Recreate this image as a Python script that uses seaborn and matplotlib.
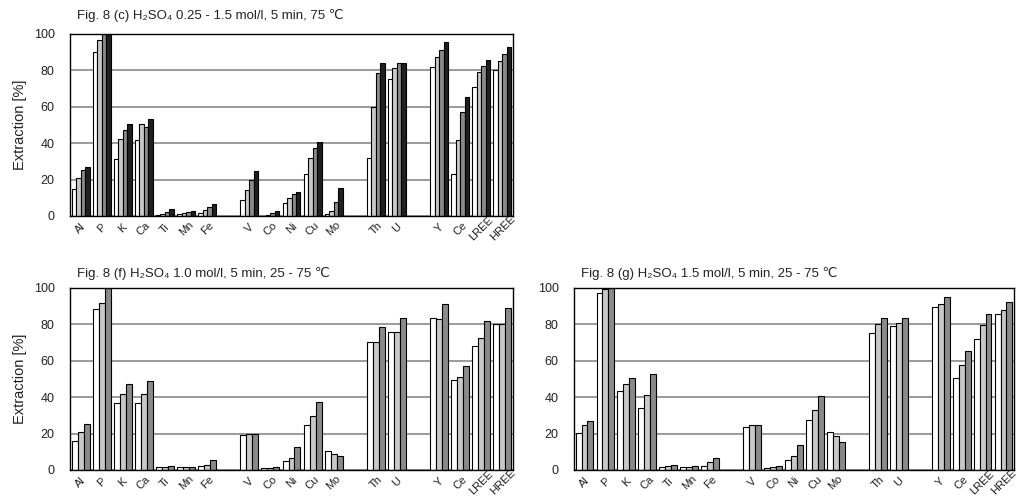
import numpy as np
import pandas as pd
import seaborn as sns
from matplotlib import pyplot as plt

# elements on the x axis, gaps are blank slots
elements = ["Al", "P", "K", "Ca", "Ti", "Mn", "Fe", "V", "Co", "Ni", "Cu", "Mo",
            "Th", "U", "Y", "Ce", "LREE", "HREE"]
order = ["Al", "P", "K", "Ca", "Ti", "Mn", "Fe", " ", "V", "Co", "Ni", "Cu", "Mo",
         "  ", "Th", "U", "   ", "Y", "Ce", "LREE", "HREE"]

# (c) H2SO4 0.25 - 1.5 mol/l, 75 C
c_025 = [14.7, 90.0, 31.4, 41.6, 0.3, 1.0, 1.5, 8.6, 0.2, 7.2, 22.9, 1.3, 32.0, 75.5, 81.7, 23.3, 71.1, 80.2]
c_050 = [21.0, 96.5, 42.2, 50.5, 1.0, 1.5, 3.3, 14.1, 0.6, 9.8, 31.7, 2.8, 59.8, 81.3, 87.4, 41.8, 78.9, 85.3]
c_100 = [25.3, 100.0, 47.3, 48.8, 2.2, 2.0, 5.1, 20.0, 1.8, 12.2, 37.4, 7.6, 78.5, 83.9, 91.3, 57.0, 82.2, 89.0]
c_150 = [27.0, 100.0, 50.5, 53.2, 3.7, 2.6, 6.8, 24.8, 2.8, 13.3, 40.5, 15.3, 84.2, 84.2, 95.5, 65.5, 85.7, 92.8]

# (f) H2SO4 1.0 mol/l, 25 - 75 C
f_25 = [16.1, 88.4, 37.0, 37.0, 1.5, 1.5, 2.0, 19.4, 1.3, 5.0, 25.0, 10.3, 70.1, 75.6, 83.3, 49.2, 68.1, 80.2]
f_50 = [21.1, 91.6, 41.8, 41.8, 1.8, 1.5, 2.9, 19.8, 1.3, 6.6, 29.4, 9.0, 70.1, 75.6, 82.9, 51.0, 72.3, 80.2]
f_75 = [25.5, 100.0, 47.5, 48.8, 2.4, 1.8, 5.3, 19.8, 1.8, 12.5, 37.4, 7.9, 78.3, 83.3, 91.0, 56.9, 81.8, 88.8]

# (g) H2SO4 1.5 mol/l, 25 - 75 C
g_25 = [20.2, 97.2, 43.5, 33.9, 1.8, 1.7, 2.4, 23.9, 1.1, 5.7, 27.2, 20.7, 75.2, 79.1, 89.4, 50.3, 71.9, 85.5]
g_50 = [24.8, 99.3, 47.3, 41.1, 2.2, 1.7, 4.2, 25.0, 1.5, 7.7, 32.7, 18.9, 80.0, 80.6, 91.2, 57.8, 79.6, 87.9]
g_75 = [27.0, 100.0, 50.5, 52.8, 2.9, 2.0, 6.8, 25.0, 2.4, 13.6, 40.4, 15.4, 83.7, 83.7, 95.0, 65.3, 85.9, 92.5]

sns.set_style("white")
plt.rcParams['font.family'] = ['Liberation Sans', 'DejaVu Sans']


def panel(ax, series, palette, title, title_gap, ylabel=True):
    names = list(series.keys())
    df = pd.DataFrame({
        'element': elements * len(names),
        'series': np.repeat(names, len(elements)),
        'value': np.concatenate([series[n] for n in names]),
    })
    sns.barplot(data=df, x='element', y='value', hue='series', order=order,
                hue_order=names, palette=palette, saturation=1, width=0.85,
                edgecolor='black', linewidth=0.8, legend=False, ax=ax)
    ax.set_xlim(-0.5, len(order) - 0.5)
    ax.set_ylim(0, 100)
    ax.set_yticks([0, 20, 40, 60, 80, 100])
    ax.set_xticks(range(len(order)))
    ax.set_xticklabels(order, rotation=45, ha='center', va='center',
                       rotation_mode='anchor', fontsize=8)
    ax.tick_params(axis='y', length=0, pad=11, labelsize=9, labelcolor='#222222')
    ax.tick_params(axis='x', length=0, pad=9, labelcolor='#222222')
    ax.yaxis.grid(True, color='#9a9a9a', lw=1.4)
    ax.set_axisbelow(True)
    for s in ax.spines.values():
        s.set_color('black')
        s.set_linewidth(1.0)
    ax.set_xlabel('')
    if ylabel:
        ax.set_ylabel('Extraction [%]', fontsize=10.5, labelpad=5, color='#222222')
    else:
        ax.set_ylabel('')
    ax.annotate(title, xy=(0, 1), xycoords='axes fraction', xytext=(7, title_gap),
                textcoords='offset pixels', fontsize=9.5, va='baseline', color='#222222')


fig = plt.figure(figsize=(10.17, 4.96), dpi=100)
W, H = 1017, 496
ax_c = fig.add_axes([70 / W, 1 - 216 / H, 443 / W, 182 / H])
ax_f = fig.add_axes([70 / W, 1 - 470 / H, 443 / W, 182 / H])
ax_g = fig.add_axes([574 / W, 1 - 470 / H, 440 / W, 182 / H])

pal4 = ['white', '#c8c8c8', '#8a8a8a', '#202020']
pal3 = ['white', '#c8c8c8', '#8a8a8a']

panel(ax_c, {'0.25 mol/l': c_025, '0.5 mol/l': c_050, '1.0 mol/l': c_100, '1.5 mol/l': c_150},
      pal4, 'Fig. 8 (c) H\u2082SO\u2084 0.25 - 1.5 mol/l, 5 min, 75 \u2103', 15)
panel(ax_f, {'25': f_25, '50': f_50, '75': f_75},
      pal3, 'Fig. 8 (f) H\u2082SO\u2084 1.0 mol/l, 5 min, 25 - 75 \u2103', 11)
panel(ax_g, {'25': g_25, '50': g_50, '75': g_75},
      pal3, 'Fig. 8 (g) H\u2082SO\u2084 1.5 mol/l, 5 min, 25 - 75 \u2103', 11, ylabel=False)

fig.savefig('out.png', dpi=100)
